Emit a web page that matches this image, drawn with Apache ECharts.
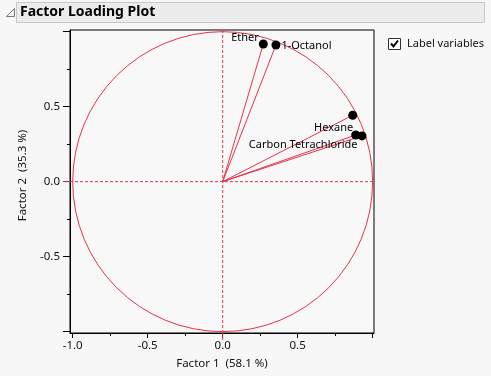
<!DOCTYPE html>
<html>
<head>
<meta charset="utf-8">
<script src="https://cdn.jsdelivr.net/npm/echarts@6/dist/echarts.min.js"></script>
<style>
html, body { margin: 0; padding: 0; background: #f7f7f7; }
#main { width: 491px; height: 376px; }
</style>
</head>
<body>
<div id="main"></div>
<script>
// loadings
var varNames = ['Ether', '1-Octanol', '', 'Hexane', 'Carbon Tetrachloride'];
var factor1 = [0.271, 0.355, 0.867, 0.887, 0.929];
var factor2 = [0.918, 0.911, 0.443, 0.311, 0.305];

var majorTicks = [-1, -0.5, 0, 0.5, 1];
var minorTicks = [-0.75, -0.25, 0.25, 0.75];
var xTickLabels = [-1, -0.5, 0, 0.5];
var yTickLabels = [-0.5, 0, 0.5];
var xName = 'Factor 1  (58.1 %)';
var yName = 'Factor 2  (35.3 %)';

// where each name sits relative to its dot
var labelPlace = [
    { position: 'left', offset: [0, -6] },
    { position: 'right', offset: [1, 1] },
    { position: 'left', offset: [0, 0] },
    { position: 'left', offset: [2, -7] },
    { position: 'left', offset: [0, 9] }
];

var RED = '#e8334a';
var FONT = 'Noto Sans';
var X_MIN = -1.018, X_MAX = 1.009, Y_MIN = -1.009, Y_MAX = 1.011;

var chart = echarts.init(document.getElementById('main'), null, { renderer: 'canvas' });

var points = factor1.map(function (v, i) {
    return {
        value: [v, factor2[i]],
        name: varNames[i],
        label: {
            show: varNames[i] !== '',
            position: labelPlace[i].position,
            offset: labelPlace[i].offset,
            distance: 0
        }
    };
});

function fmt(v) { return Number(v).toFixed(1); }

var option = {
    backgroundColor: '#f7f7f7',
    animation: false,
    textStyle: { fontFamily: FONT },
    grid: {
        left: 70, top: 30, right: 117, bottom: 43,
        show: true, backgroundColor: '#f8f8f8', borderColor: '#000', borderWidth: 1
    },
    xAxis: [{
        type: 'value', min: X_MIN, max: X_MAX, position: 'bottom',
        name: xName, nameLocation: 'middle', nameGap: 25,
        nameTextStyle: { color: '#111', fontSize: 11.5, fontFamily: FONT },
        axisLine: { show: true, onZero: false, lineStyle: { color: '#000' } },
        axisTick: { show: true, length: 5, customValues: majorTicks, lineStyle: { color: '#000' } },
        axisLabel: { customValues: xTickLabels, formatter: fmt, color: '#111', fontSize: 11.5, margin: 7 },
        splitLine: { show: false }
    }, {
        type: 'value', min: X_MIN, max: X_MAX, position: 'bottom',
        axisLine: { show: false, onZero: false },
        axisTick: { show: true, length: 3, customValues: minorTicks, lineStyle: { color: '#000' } },
        axisLabel: { show: false },
        splitLine: { show: false }
    }],
    yAxis: [{
        type: 'value', min: Y_MIN, max: Y_MAX, position: 'left',
        name: yName, nameLocation: 'middle', nameGap: 31,
        nameTextStyle: { color: '#111', fontSize: 11.5, fontFamily: FONT, padding: [0, 0, 0, 12] },
        axisLine: { show: true, onZero: false, lineStyle: { color: '#000' } },
        axisTick: { show: true, length: 7, customValues: majorTicks, lineStyle: { color: '#000' } },
        axisLabel: { customValues: yTickLabels, formatter: fmt, color: '#111', fontSize: 11.5, margin: 10 },
        splitLine: { show: false }
    }, {
        type: 'value', min: Y_MIN, max: Y_MAX, position: 'left',
        axisLine: { show: false, onZero: false },
        axisTick: { show: true, length: 3, customValues: minorTicks, lineStyle: { color: '#000' } },
        axisLabel: { show: false },
        splitLine: { show: false }
    }],
    graphic: [
        { type: 'rect', shape: { x: 16.5, y: 2.5, width: 468, height: 20 },
          style: { fill: '#ececec', stroke: '#c8c8c8', lineWidth: 1 } },
        { type: 'polygon', shape: { points: [[14.5, 8.5], [14.5, 16.5], [6.5, 16.5]] },
          style: { fill: '#f4f4f4', stroke: '#777', lineWidth: 1 } },
        { type: 'text', x: 20, y: 12.5,
          style: { text: 'Factor Loading Plot', fill: '#000', font: 'bold 14px "Noto Sans"', verticalAlign: 'middle' } },
        { type: 'rect', shape: { x: 388.5, y: 38.5, width: 12, height: 11 },
          style: { fill: '#fff', stroke: '#333', lineWidth: 1 } },
        { type: 'polyline', shape: { points: [[391, 43.5], [393.5, 46.5], [398, 40.5]] },
          style: { fill: 'none', stroke: '#000', lineWidth: 2 } },
        { type: 'text', x: 407, y: 44,
          style: { text: 'Label variables', fill: '#111', font: '11px "Noto Sans"', verticalAlign: 'middle' } }
    ],
    series: [{
        // unit circle
        type: 'custom',
        data: [[0, 0]],
        silent: true,
        renderItem: function (params, api) {
            var c = api.coord([0, 0]);
            var e = api.coord([1, 0]);
            return {
                type: 'circle',
                shape: { cx: c[0], cy: c[1], r: e[0] - c[0] },
                style: { fill: 'none', stroke: RED, lineWidth: 1 }
            };
        }
    }, {
        // dashed zero lines, poking a little outside the frame
        type: 'custom',
        data: [[0, 0]],
        clip: false,
        silent: true,
        renderItem: function (params, api) {
            var top = api.coord([0, Y_MAX]);
            var bot = api.coord([0, Y_MIN]);
            var lft = api.coord([X_MIN, 0]);
            var rgt = api.coord([X_MAX, 0]);
            var st = { stroke: RED, lineWidth: 1, lineDash: [3, 2] };
            return {
                type: 'group',
                children: [
                    { type: 'line', shape: { x1: top[0], y1: top[1], x2: bot[0], y2: bot[1] }, style: st },
                    { type: 'line', shape: { x1: lft[0], y1: lft[1], x2: rgt[0], y2: rgt[1] }, style: st },
                    { type: 'line', shape: { x1: bot[0], y1: bot[1], x2: bot[0], y2: bot[1] + 7 }, style: { stroke: RED, lineWidth: 1 } },
                    { type: 'line', shape: { x1: lft[0] - 7, y1: lft[1], x2: lft[0], y2: lft[1] }, style: { stroke: RED, lineWidth: 1 } }
                ]
            };
        }
    }, {
        // rays from the origin
        type: 'custom',
        data: factor1.map(function (v, i) { return [v, factor2[i]]; }),
        silent: true,
        renderItem: function (params, api) {
            var o = api.coord([0, 0]);
            var p = api.coord([api.value(0), api.value(1)]);
            return {
                type: 'line',
                shape: { x1: o[0], y1: o[1], x2: p[0], y2: p[1] },
                style: { stroke: RED, lineWidth: 1 }
            };
        }
    }, {
        type: 'scatter',
        data: points,
        symbolSize: 9,
        itemStyle: { color: '#000', opacity: 1 },
        label: {
            formatter: '{b}',
            color: '#000',
            fontSize: 11,
            fontFamily: FONT
        },
        z: 5
    }]
};

chart.setOption(option);
</script>
</body>
</html>
